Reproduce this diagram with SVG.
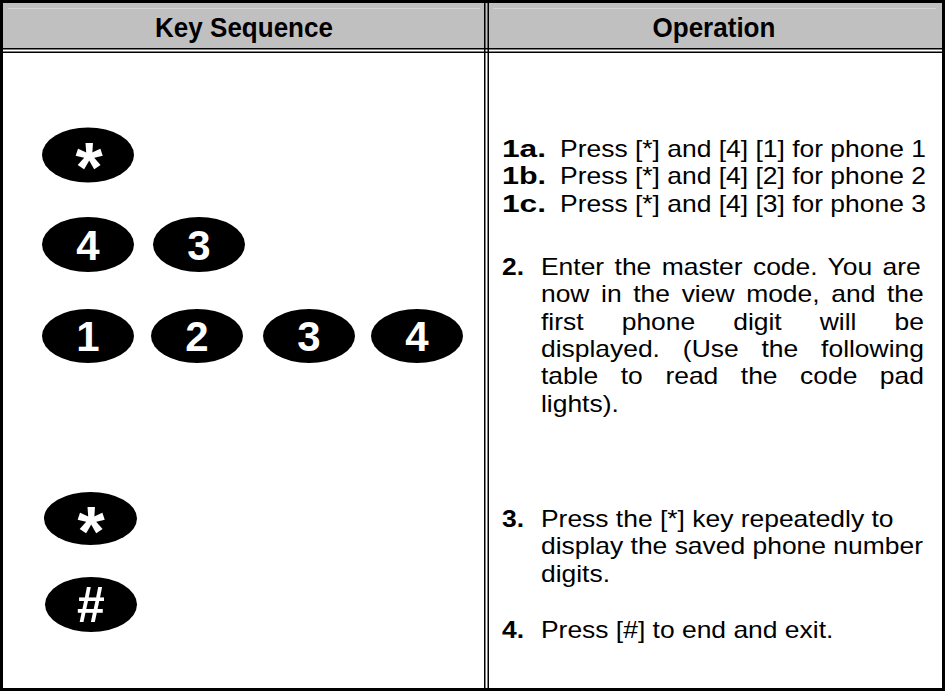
<svg xmlns="http://www.w3.org/2000/svg" width="945" height="691" viewBox="0 0 945 691">
<style>
.t{font-family:"Liberation Sans",Arial,sans-serif;font-size:23px;fill:#000}
.b{font-weight:bold}
.hd{font-family:"Liberation Sans",Arial,sans-serif;font-size:28px;font-weight:bold;text-anchor:middle;fill:#000}
.key ellipse{fill:#000}
.key text{font-family:"Liberation Sans",Arial,sans-serif;font-weight:bold;fill:#fff;text-anchor:middle}
.d{font-size:42px}
.ln{stroke:#000;stroke-width:1.5;fill:none}
</style>
<rect width="945" height="691" fill="#fff"/>
<g id="table">
  <rect x="3" y="3" width="939" height="45" fill="#c0c0c0"/>
  <line x1="8" y1="8.5" x2="480" y2="8.5" stroke="#d6d6d6" stroke-width="1"/>
  <line x1="493" y1="8.5" x2="936" y2="8.5" stroke="#d6d6d6" stroke-width="1"/>
  <line class="ln" x1="3" y1="48.75" x2="942" y2="48.75"/>
  <line class="ln" x1="3" y1="52.25" x2="942" y2="52.25"/>
  <line class="ln" x1="484.75" y1="3" x2="484.75" y2="688"/>
  <line class="ln" x1="488.25" y1="3" x2="488.25" y2="688"/>
  <rect x="1.5" y="1.5" width="942" height="688" fill="none" stroke="#000" stroke-width="3"/>
  <g transform="scale(0.93,1)">
    <text class="hd" x="262.4" y="37">Key Sequence</text>
    <text class="hd" x="767.7" y="37">Operation</text>
  </g>
</g>
<g id="keys">
  <g id="key-star-1" class="key"><ellipse cx="88" cy="155" rx="46" ry="27.5"/><text x="89" y="192" font-size="70">*</text></g>
  <g id="key-4a" class="key"><ellipse cx="88" cy="244.5" rx="46" ry="27.5"/><text class="d" x="88" y="259.5">4</text></g>
  <g id="key-3a" class="key"><ellipse cx="199" cy="244.5" rx="46" ry="27.5"/><text class="d" x="199" y="259.5">3</text></g>
  <g id="key-1" class="key"><ellipse cx="88" cy="336" rx="46" ry="27"/><text class="d" x="88" y="351">1</text></g>
  <g id="key-2" class="key"><ellipse cx="197" cy="336" rx="46" ry="27"/><text class="d" x="197" y="351">2</text></g>
  <g id="key-3b" class="key"><ellipse cx="309" cy="336" rx="46" ry="27"/><text class="d" x="309" y="351">3</text></g>
  <g id="key-4b" class="key"><ellipse cx="417" cy="336" rx="46" ry="27"/><text class="d" x="417" y="351">4</text></g>
  <g id="key-star-2" class="key"><ellipse cx="90.5" cy="518.5" rx="46.5" ry="26.5"/><text x="91" y="556" font-size="70">*</text></g>
  <g id="key-hash" class="key"><ellipse cx="91" cy="604.5" rx="46" ry="27.5"/><text x="91" y="622" font-size="50">#</text></g>
</g>
<g id="operations" class="t" transform="scale(1.15,1)">
  <text class="b" x="436.5" y="157" textLength="38.3" lengthAdjust="spacingAndGlyphs">1a.</text><text x="487" y="157">Press [*] and [4] [1] for phone 1</text>
  <text class="b" x="436.5" y="184.5" textLength="38.3" lengthAdjust="spacingAndGlyphs">1b.</text><text x="487" y="184.5">Press [*] and [4] [2] for phone 2</text>
  <text class="b" x="436.5" y="212" textLength="38.3" lengthAdjust="spacingAndGlyphs">1c.</text><text x="487" y="212">Press [*] and [4] [3] for phone 3</text>

  <text class="b" x="436.5" y="275">2.</text><text x="470.4" y="275" word-spacing="2.68">Enter the master code. You are</text>
  <text x="470.4" y="302.5" word-spacing="3.73">now in the view mode, and the</text>
  <text y="330"><tspan x="470.4">first</tspan><tspan x="540.6">phone</tspan><tspan x="637.6">digit</tspan><tspan x="712.8">will</tspan><tspan x="777.8">be</tspan></text>
  <text y="357"><tspan x="470.4">displayed.</tspan><tspan x="593.8">(Use</tspan><tspan x="662.2">the</tspan><tspan x="714">following</tspan></text>
  <text y="384.5"><tspan x="470.4">table</tspan><tspan x="539.8">to</tspan><tspan x="578.6">read</tspan><tspan x="644.2">the</tspan><tspan x="695.7">code</tspan><tspan x="765.1">pad</tspan></text>
  <text x="470.4" y="412">lights).</text>

  <text class="b" x="436.5" y="527">3.</text><text x="470.4" y="527">Press the [*] key repeatedly to</text>
  <text x="470.4" y="554.5">display the saved phone number</text>
  <text x="470.4" y="582">digits.</text>

  <text class="b" x="436.5" y="638">4.</text><text x="470.4" y="638">Press [#] to end and exit.</text>
</g>
</svg>
